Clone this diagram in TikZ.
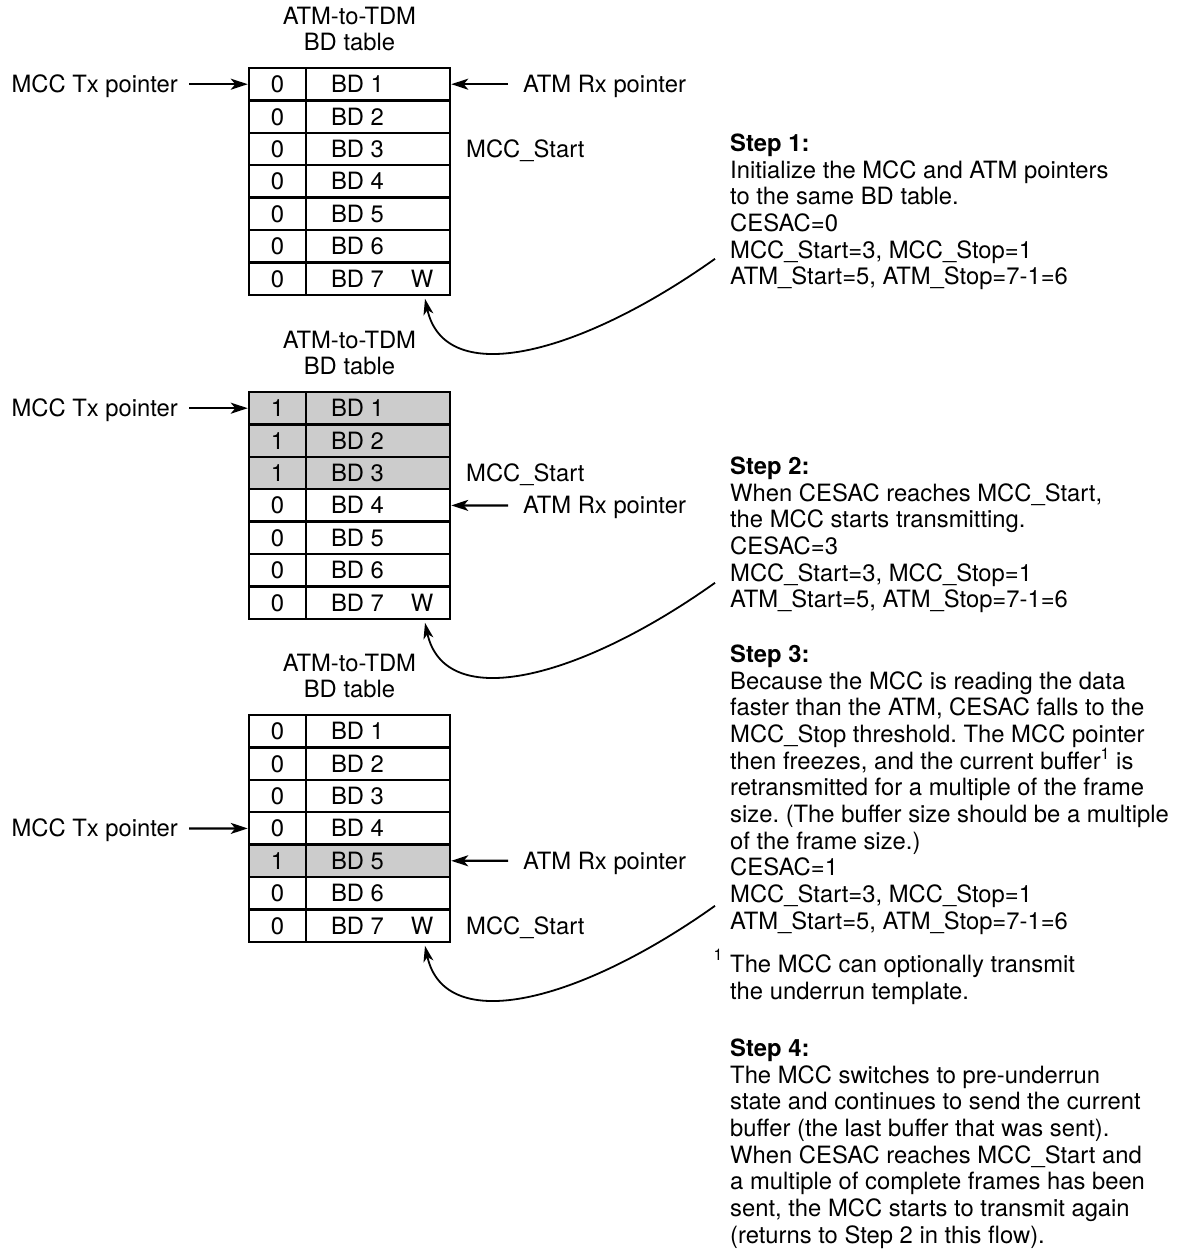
\documentclass[tikz,border=0pt]{standalone}
\usepackage{fontspec}
\setmainfont{TeX Gyre Heros}
\usetikzlibrary{arrows.meta,calc}
\definecolor{shade}{RGB}{204,204,204}
\newcommand\supone{\raisebox{9.5pt}{\fontsize{16}{16}\selectfont 1}}
\frenchspacing
\tikzset{
  txt/.style={font=\frenchspacing\fontsize{23.8}{26.7}\selectfont, inner sep=0pt},
  capbox/.style={text height=17pt, text depth=0pt},
  cellL/.style={txt, capbox, draw, line width=2.5pt, minimum width=57pt, minimum height=32.4pt},
  cellR/.style={txt, capbox, draw, line width=2.5pt, minimum width=144pt, minimum height=32.4pt, inner xsep=25pt},
  arr/.style={line width=2.2pt, -{Stealth[length=17pt,width=11pt,inset=4.5pt]}},
  carr/.style={line width=1.8pt, -{Stealth[length=16pt,width=10pt,inset=4.5pt]}},
  steptext/.style={txt, align=left, anchor=north west}
}
\newcommand\bdtable[3]{%
  \foreach \i/\v/\f in {#3} {
    \node[cellL, fill=\f] (#1c\i) at (277.5, {#2+32.4*(\i-0.5)}) {\v};
    \node[cellR, fill=\f] (#1b\i) at (378, {#2+32.4*(\i-0.5)}) {\makebox[94pt][l]{BD \i\ifnum\i=7\hspace{27pt}W\fi}};
  }
  \node[txt, align=center, anchor=north] (#1t) at (349.5, {#2-61.5}) {ATM-to-TDM\\BD table};
  \coordinate (#1tip) at (425, {#2+226.8+4});
  \coordinate (#1cs) at (715, {#2+226.8-36});
  \draw[carr] (#1cs) .. controls (580, {#2+226.8+60}) and (445, {#2+226.8+95}) .. (#1tip);
}
\begin{document}
\begin{tikzpicture}[x=1pt,y=-1pt]
\useasboundingbox (0,0) rectangle (1177,1249);

% Table 1
\bdtable{a}{68}{1/0/white,2/0/white,3/0/white,4/0/white,5/0/white,6/0/white,7/0/white}
\node[txt, capbox, anchor=east, inner xsep=11pt] (atx) at (189, 84.2) {MCC Tx pointer};
\draw[arr] (atx) -- (ac1);
\node[txt, capbox, anchor=west, inner xsep=15pt] (arx) at (508, 84.2) {ATM Rx pointer};
\draw[arr] (arx) -- (ab1);
\node[txt, capbox, anchor=west] (ams) at (466, 149) {MCC\_Start};

% Table 2
\bdtable{b}{392}{1/1/shade,2/1/shade,3/1/shade,4/0/white,5/0/white,6/0/white,7/0/white}
\node[txt, capbox, anchor=east, inner xsep=11pt] (btx) at (189, 408.2) {MCC Tx pointer};
\draw[arr] (btx) -- (bc1);
\node[txt, capbox, anchor=west, inner xsep=15pt] (brx) at (508, 505.4) {ATM Rx pointer};
\draw[arr] (brx) -- (bb4);
\node[txt, capbox, anchor=west] (bms) at (466, 473) {MCC\_Start};

% Table 3
\bdtable{c}{715}{1/0/white,2/0/white,3/0/white,4/0/white,5/1/shade,6/0/white,7/0/white}
\node[txt, capbox, anchor=east, inner xsep=11pt] (ctx) at (189, 828.4) {MCC Tx pointer};
\draw[arr] (ctx) -- (cc4);
\node[txt, capbox, anchor=west, inner xsep=15pt] (crx) at (508, 860.8) {ATM Rx pointer};
\draw[arr] (crx) -- (cb5);
\node[txt, capbox, anchor=west] (cms) at (466, 925.6) {MCC\_Start};

% Step texts
\node[steptext] (s1) at (730, 133.5) {\textbf{Step 1:}\\
Initialize the MCC and ATM pointers\\
to the same BD table.\\
CESAC=0\\
MCC\_Start=3, MCC\_Stop=1\\
ATM\_Start=5, ATM\_Stop=7-1=6};

\node[steptext] (s2) at (730, 456.5) {\textbf{Step 2:}\\
When CESAC reaches MCC\_Start,\\
the MCC starts transmitting.\\
CESAC=3\\
MCC\_Start=3, MCC\_Stop=1\\
ATM\_Start=5, ATM\_Stop=7-1=6};

\node[steptext] (s3) at (730, 644.5) {\textbf{Step 3:}\\
Because the MCC is reading the data\\
faster than the ATM, CESAC falls to the\\
MCC\_Stop threshold. The MCC pointer\\
then freezes, and the current buffer\supone{} is\\
retransmitted for a multiple of the frame\\
size. (The buffer size should be a multiple\\
of the frame size.)\\
CESAC=1\\
MCC\_Start=3, MCC\_Stop=1\\
ATM\_Start=5, ATM\_Stop=7-1=6};

\node[txt, font=\fontsize{16}{16}\selectfont] (fn1) at (718, 955) {1};
\node[steptext] (fn) at (730, 954.5) {The MCC can optionally transmit\\
the underrun template.};

\node[steptext] (s4) at (730, 1038.5) {\textbf{Step 4:}\\
The MCC switches to pre-underrun\\
state and continues to send the current\\
buffer (the last buffer that was sent).\\
When CESAC reaches MCC\_Start and\\
a multiple of complete frames has been\\
sent, the MCC starts to transmit again\\
(returns to Step 2 in this flow).};
\end{tikzpicture}
\end{document}
